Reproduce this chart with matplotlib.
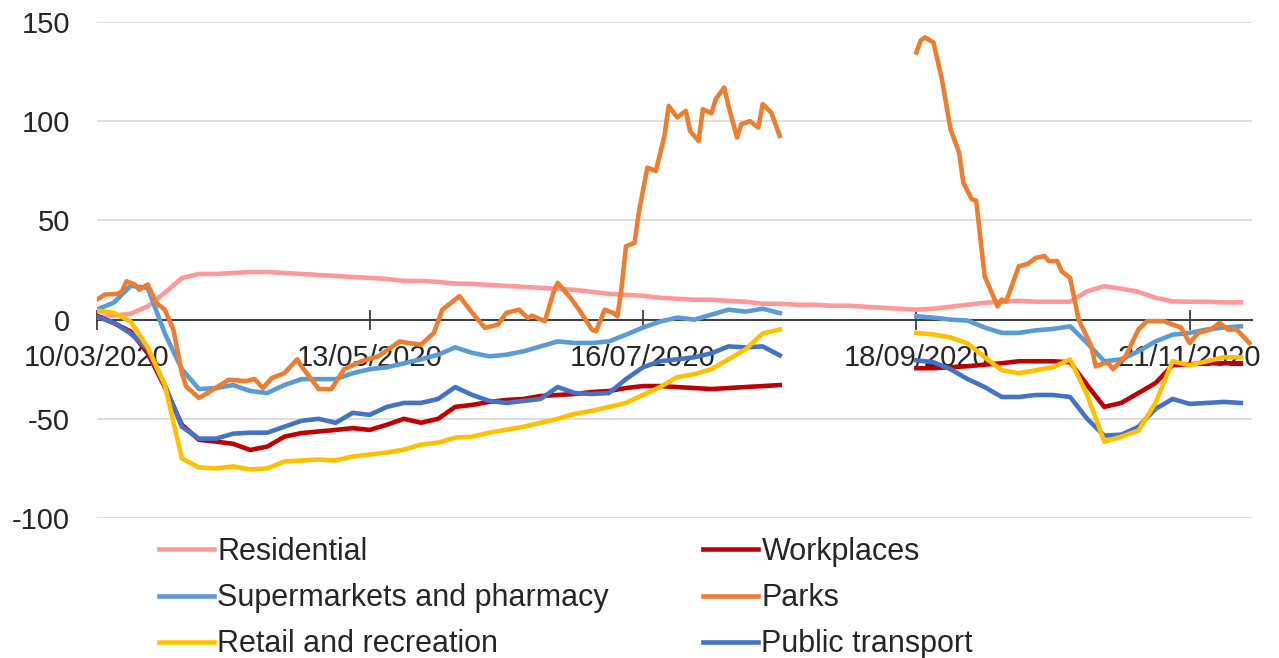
import matplotlib
matplotlib.use("Agg")
import matplotlib.pyplot as plt
import matplotlib.dates as mdates
import numpy as np

plt.rcParams['font.family'] = ['Liberation Sans', 'DejaVu Sans']
plt.rcParams['axes.unicode_minus'] = False

# days since 10/03/2020, sampled every 4 days
days = [0, 4, 8, 12, 16, 20, 24, 28, 32, 36, 40, 44, 48, 52, 56, 60, 64, 68, 72, 76,
        80, 84, 88, 92, 96, 100, 104, 108, 112, 116, 120, 124, 128, 132, 136, 140,
        144, 148, 152, 156, 160,
        164, 168, 172, 176, 180, 184, 188,
        192, 196, 200, 204, 208, 212, 216, 220, 224, 228, 232, 236, 240, 244, 248,
        252, 256, 260, 264, 268]

gap = [None] * 7

residential = [1, 2, 3, 6.7, 13.5, 21, 23, 23, 23.5, 24, 24, 23.5, 23, 22.5, 22,
               21.5, 21, 20.5, 19.5, 19.5, 19, 18.2, 18, 17.5, 17, 16.5, 16, 15.5,
               15, 14, 13, 12.5, 12, 11, 10.5, 10, 10, 9.5, 9, 8, 8,
               7.5, 7.5, 7, 7, 6.5, 6, 5.5,
               5, 5.5, 6.5, 7.5, 8.5, 9, 9.5, 9, 9, 9, 14.3, 16.8, 15.6, 14, 11,
               9.2, 9, 9, 8.7, 8.7]

workplaces = [2, -1.7, -6, -17, -34, -53, -60.6, -61.5, -62.6, -65.7, -64, -59,
              -57.2, -56.4, -55.6, -54.7, -55.6, -53, -50, -52, -50, -44, -43,
              -41.5, -40.5, -40, -38.5, -38, -37.5, -36.5, -36, -34.5, -33.5,
              -33.5, -34, -34.5, -35, -34.5, -34, -33.5, -33] + gap + \
             [-24.5, -24.5, -24, -23.5, -22.7, -22, -21, -21, -21, -21.5, -33,
              -44, -42, -37, -32, -23, -22.5, -22, -22, -22]

supermarkets = [5, 8.5, 17, 16, -7, -25, -35, -34.5, -33, -36, -37, -33, -30,
                -30, -30, -27, -25, -24, -22, -20, -17.7, -14, -16.8, -18.5,
                -17.7, -16, -13.5, -11, -11.8, -11.8, -11, -7.6, -4, -1, 1, 0,
                2.5, 5, 4, 5.5, 3.3] + gap + \
               [1.7, 1, 0, -0.5, -4, -6.7, -6.7, -5.4, -4.7, -3.4, -11.8, -21,
                -20, -16, -11, -7.6, -6.7, -5, -4, -3.4]

retail = [4.5, 3.5, -1, -14, -33, -70, -74.5, -75, -74, -75.5, -75, -71.5, -71,
          -70.5, -71, -69, -68, -67, -65.5, -63, -62, -59.5, -59, -57, -55.5,
          -54, -52, -50, -47.5, -46, -44, -42, -38, -34, -29, -27.5, -25, -20,
          -15, -7, -5] + gap + \
         [-6.7, -7.5, -9, -12, -19, -25.5, -27, -25.5, -24, -20, -38, -61.5,
          -59, -56, -42, -21, -23, -21, -19, -19]

transport = [1.5, -1.5, -7, -15, -33, -54, -60, -60, -57.5, -57, -57, -54, -51,
             -50, -52, -47, -48, -44, -42, -42, -40, -34, -38, -41, -42, -41,
             -40, -34, -37, -37.5, -37, -30, -24, -21, -20, -19, -17, -13.5,
             -14, -13.5, -18] + gap + \
            [-20.5, -21.5, -25, -30, -34, -39, -39, -38, -38, -39, -50, -58.5,
             -58, -54, -45, -40, -42.5, -42, -41.5, -42]

# parks is much noisier, so it has its own day list
parks_days = [0, 2, 5, 6, 7, 9, 10, 12, 14, 16, 18, 20, 21, 24, 26, 29, 31, 35,
              37, 39, 41, 44, 47, 48, 51, 52, 55, 58, 62, 66, 71, 73, 76, 79, 81,
              85, 88, 91, 94, 96, 99, 101, 102, 105, 107, 108, 111, 113, 116, 117,
              119, 121, 122, 123, 124, 126, 127, 129, 131, 133, 134, 136, 138,
              139, 141, 142, 144, 145, 147, 148, 150, 151, 153, 155, 156, 158, 160,
              176,
              192, 193, 194, 196, 198, 200, 202, 203, 205, 206, 208, 211, 212, 213,
              216, 218, 220, 222, 223, 225, 226, 228, 230, 233, 234, 236, 237, 238,
              241, 244, 246, 250, 252, 254, 256, 258, 261, 263, 265, 267, 270]
parks = [10, 12.6, 13, 14.3, 19.3, 17.7, 15, 17.7, 8.4, 5, -5, -27, -33.7, -39.5,
         -37, -33, -30.3, -31, -30, -34.5, -29.5, -27, -20, -23.5, -32, -35, -35,
         -25, -21, -18.5, -11, -11.8, -12.6, -6.7, 5, 11.8, 3.4, -4.2, -2.5, 3.4,
         5, 0.8, 2, -0.8, 13.5, 18.5, 11, 5, -5, -5.9, 5, 3.4, 1.7, 16.8, 37, 38.7,
         53.9, 76.6, 74.9, 92.6, 107.7, 101.9, 105.2, 95.1, 90, 106, 104, 111, 117,
         107.7, 91.8, 98.5, 100, 96.8, 108.6, 104.4, 92.6,
         None,
         134.7, 140.6, 142.3, 139.7, 121, 96, 84.2, 69, 60.6, 60, 21.9, 6.7, 10.1,
         9, 26.9, 28, 31.1, 32, 29.5, 29.5, 24.4, 21, 0, -13.5, -23.6, -21.9, -22,
         -25, -18.5, -5, -0.8, -0.8, -2.5, -4, -11.8, -6.7, -5, -1.7, -5, -5, -11.8]

tick_dates = ['2020-03-10', '2020-05-13', '2020-07-16', '2020-09-18', '2020-11-21']
tick_labels = ['10/03/2020', '13/05/2020', '16/07/2020', '18/09/2020', '21/11/2020']

start = np.datetime64('2020-03-10')
x = start + np.array(days).astype('timedelta64[D]')
xp = start + np.array(parks_days).astype('timedelta64[D]')


def arr(v):
    return np.array([np.nan if a is None else a for a in v], dtype=float)


fig = plt.figure(figsize=(12.79, 6.58), dpi=100)
ax = fig.add_axes([96.5 / 1279, 1 - 518 / 658, (1252 - 96.5) / 1279, (518 - 22) / 658])

lw = 3.3
l_res, = ax.plot(x, arr(residential), color='#FF9999', lw=lw, label='Residential')
l_wp, = ax.plot(x, arr(workplaces), color='#C00000', lw=lw, label='Workplaces')
l_pt, = ax.plot(x, arr(transport), color='#4472C4', lw=lw, label='Public transport')
l_sm, = ax.plot(x, arr(supermarkets), color='#5B9BD5', lw=lw, label='Supermarkets and pharmacy')
l_pk, = ax.plot(xp, arr(parks), color='#ED7D31', lw=lw, label='Parks')
l_rt, = ax.plot(x, arr(retail), color='#FFC000', lw=lw, label='Retail and recreation')

x0 = mdates.date2num(start)
ax.set_xlim(x0, x0 + 270.6)
ax.set_ylim(-100, 150)
ax.set_yticks([-100, -50, 0, 50, 100, 150])
ax.grid(axis='y', color='#D9D9D9', lw=1.2)
ax.set_axisbelow(True)

for s in ['top', 'right', 'left']:
    ax.spines[s].set_visible(False)
ax.spines['bottom'].set_position(('data', 0))
ax.spines['bottom'].set_color('#404040')
ax.spines['bottom'].set_linewidth(1.5)
ax.spines['bottom'].set_zorder(1.5)

ax.set_xticks([mdates.date2num(np.datetime64(d)) for d in tick_dates])
ax.set_xticklabels(tick_labels)
ax.tick_params(axis='x', direction='inout', length=14, width=1.3, color='#404040',
               pad=10.5, labelsize=21, labelcolor='#262626')
ax.tick_params(axis='y', length=0, pad=19, labelsize=21, labelcolor='#262626')

handles = [l_res, l_sm, l_rt, l_wp, l_pk, l_pt]
ax.legend(handles=handles, labels=[h.get_label() for h in handles], ncol=2,
          loc='upper left', bbox_to_anchor=(159 / 1279, 1 - 537 / 658),
          bbox_transform=fig.transFigure, frameon=False, fontsize=22,
          borderpad=0, borderaxespad=0, handlelength=1.8, handletextpad=0.1,
          columnspacing=3.1, labelspacing=0.53, labelcolor='#262626')

fig.savefig('out.png', dpi=100)
